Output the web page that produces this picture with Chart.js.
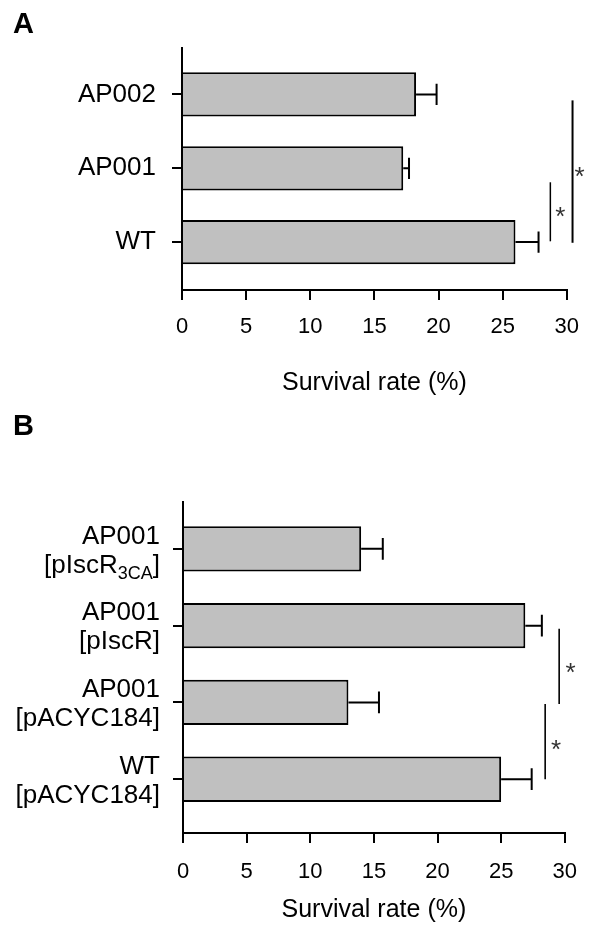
<!DOCTYPE html>
<html>
<head>
<meta charset="utf-8">
<script src="https://cdn.jsdelivr.net/npm/chart.js@4.4.1/dist/chart.umd.min.js"></script>
<style>
  html, body { margin: 0; padding: 0; background: #fff; }
  body { width: 593px; height: 938px; position: relative; overflow: hidden; font-family: 'Liberation Sans', Arial, sans-serif; }
  .panel-label { position: absolute; left: 13px; font-weight: bold; font-size: 29px; line-height: 1; z-index: 2; }
  .chart-box { position: absolute; left: 0; width: 593px; }
</style>
</head>
<body>
<div class="panel-label" style="top: 9px">A</div>
<div class="chart-box" style="top: 0; height: 410px"><canvas id="chartA"></canvas></div>
<div class="panel-label" style="top: 411px">B</div>
<div class="chart-box" style="top: 440px; height: 498px"><canvas id="chartB"></canvas></div>

<script>
const xTicks = [0, 5, 10, 15, 20, 25, 30];

// Panel A
const catsA = ['AP002', 'AP001', 'WT'];
const survivalA = [18.25, 17.25, 26.0];
const errorA = [1.6, 0.45, 1.8];

// Panel B (second line of each label, "_" marks a subscript)
const catsB = [
    ['AP001', '[pIscR_3CA]'],
    ['AP001', '[pIscR]'],
    ['AP001', '[pACYC184]'],
    ['WT', '[pACYC184]'],
];
const survivalB = [14.0, 26.9, 13.0, 25.0];
const errorB = [1.7, 1.3, 2.4, 2.4];

Chart.defaults.font.family = "'Liberation Sans', Arial, sans-serif";
Chart.defaults.color = '#000';

function errorBars(errors) {
    return {
        id: 'errorBars',
        afterDatasetsDraw(chart) {
            const { ctx, scales: { x, y } } = chart;
            const meta = chart.getDatasetMeta(0);
            ctx.save();
            ctx.strokeStyle = '#000';
            ctx.lineWidth = 2;
            meta.data.forEach((bar, i) => {
                const v = chart.data.datasets[0].data[i].x;
                const x0 = x.getPixelForValue(v);
                const x1 = x.getPixelForValue(v + errors[i]);
                const yc = y.getPixelForValue(i);
                const cap = bar.height * 0.24;
                ctx.beginPath();
                ctx.moveTo(x0, yc);
                ctx.lineTo(x1, yc);
                ctx.moveTo(x1, yc - cap);
                ctx.lineTo(x1, yc + cap);
                ctx.stroke();
            });
            ctx.restore();
        },
    };
}

// vertical significance lines with a star beside them
function sigMarks(marks) {
    return {
        id: 'sigMarks',
        afterDraw(chart) {
            const { ctx, scales: { x, y } } = chart;
            ctx.save();
            marks.forEach(m => {
                const px = x.getPixelForValue(m.x);
                ctx.strokeStyle = '#000';
                ctx.lineWidth = m.lw;
                ctx.beginPath();
                ctx.moveTo(px, y.getPixelForValue(m.from));
                ctx.lineTo(px, y.getPixelForValue(m.to));
                ctx.stroke();

                ctx.fillStyle = '#333';
                ctx.font = "26px 'Liberation Sans', Arial, sans-serif";
                ctx.textAlign = 'center';
                ctx.textBaseline = 'alphabetic';
                ctx.fillText('*', x.getPixelForValue(m.starX), y.getPixelForValue(m.starY) + 26 * 0.57);
            });
            ctx.restore();
        },
    };
}

// two-line category labels, with subscript support
function richLabels(labels, right, offsets) {
    return {
        id: 'richLabels',
        afterDraw(chart) {
            const { ctx, scales: { y } } = chart;
            const mainFont = "26px 'Liberation Sans', Arial, sans-serif";
            const subFont = "18px 'Liberation Sans', Arial, sans-serif";
            ctx.save();
            ctx.fillStyle = '#000';
            ctx.textBaseline = 'middle';
            ctx.textAlign = 'left';
            labels.forEach((lines, i) => {
                const yc = y.getPixelForValue(i);
                lines.forEach((line, j) => {
                    const ly = yc + offsets[j];
                    const m = line.match(/^(.*)_(\w+)(.*)$/);
                    const parts = m
                        ? [[m[1], mainFont, 0], [m[2], subFont, 9], [m[3], mainFont, 0]]
                        : [[line, mainFont, 0]];
                    let total = 0;
                    parts.forEach(p => { ctx.font = p[1]; total += ctx.measureText(p[0]).width; });
                    let px = right - total;
                    parts.forEach(p => {
                        ctx.font = p[1];
                        ctx.fillText(p[0], px, ly + p[2]);
                        px += ctx.measureText(p[0]).width;
                    });
                });
            });
            ctx.restore();
        },
    };
}

function buildChart(id, cats, values, errors, cfg) {
    const axisLine = { color: '#000', width: 2 };
    const tickMarks = { drawOnChartArea: false, color: '#000', lineWidth: 2, tickLength: 10, offset: false };
    const plugins = [errorBars(errors), sigMarks(cfg.sig)];
    if (cfg.richLabels) plugins.push(cfg.richLabels);

    return new Chart(document.getElementById(id), {
        type: 'bar',
        data: {
            datasets: [{
                data: values.map((v, i) => ({ x: v, y: i })),
                backgroundColor: '#c0c0c0',
                borderColor: '#000',
                borderWidth: 2,
                categoryPercentage: 1,
                barPercentage: cfg.barPct,
            }],
        },
        options: {
            indexAxis: 'y',
            responsive: true,
            maintainAspectRatio: false,
            animation: false,
            layout: { padding: cfg.padding },
            scales: {
                x: {
                    type: 'linear',
                    min: 0,
                    max: 30,
                    offset: false,
                    afterBuildTicks: s => { s.ticks = xTicks.map(v => ({ value: v })); },
                    afterFit: s => { s.height = cfg.xHeight; },
                    border: axisLine,
                    grid: tickMarks,
                    ticks: { font: { size: 22 }, padding: cfg.tickPad, maxRotation: 0 },
                    title: {
                        display: true,
                        text: 'Survival rate (%)',
                        font: { size: 25 },
                        padding: { top: 0, bottom: cfg.titlePad },
                    },
                },
                y: {
                    type: 'linear',
                    reverse: true,
                    offset: false,
                    min: cfg.yMin,
                    max: cfg.yMax,
                    afterBuildTicks: s => { s.ticks = cats.map((_, i) => ({ value: i })); },
                    afterFit: s => { s.width = cfg.yWidth; },
                    border: axisLine,
                    grid: tickMarks,
                    ticks: {
                        display: !cfg.richLabels,
                        callback: v => cats[v],
                        font: { size: 26 },
                        padding: 16,
                    },
                },
            },
            plugins: {
                legend: { display: false },
                tooltip: { enabled: false },
            },
        },
        plugins,
    });
}

buildChart('chartA', catsA, survivalA, errorA, {
    padding: { top: 48, right: 19, left: 0, bottom: 0 },
    yWidth: 182,
    xHeight: 120,
    tickPad: 14,
    titlePad: 12,
    yMin: -0.63,
    yMax: 2.65,
    barPct: 0.6,
    sig: [
        { x: 28.72, from: 1.19, to: 1.99, lw: 1.5, starX: 29.49, starY: 1.57 },
        { x: 30.45, from: 0.08, to: 2.01, lw: 2, starX: 30.99, starY: 1.03 },
    ],
});

buildChart('chartB', catsB, survivalB, errorB, {
    padding: { top: 62, right: 20, left: 0, bottom: 0 },
    yWidth: 183,
    xHeight: 105,
    tickPad: 16,
    titlePad: 13,
    yMin: -0.61,
    yMax: 3.70,
    barPct: 0.59,
    richLabels: richLabels(catsB, 160, [-12.5, 16.5]),
    sig: [
        { x: 29.56, from: 1.04, to: 2.02, lw: 1.6, starX: 30.46, starY: 1.53 },
        { x: 28.46, from: 2.02, to: 3.0, lw: 1.6, starX: 29.31, starY: 2.53 },
    ],
});
</script>
</body>
</html>
